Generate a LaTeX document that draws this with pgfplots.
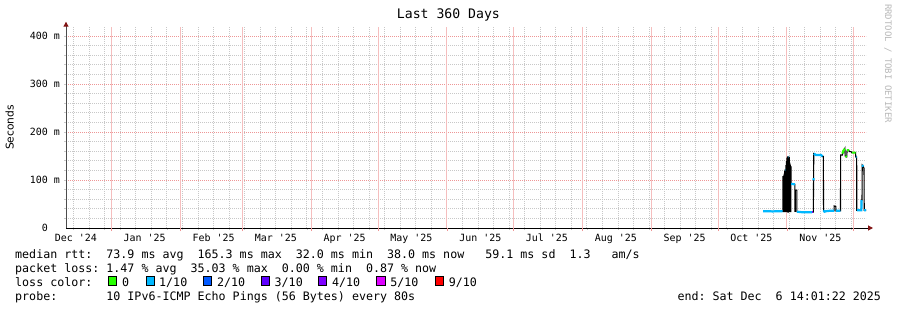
\documentclass[border=0pt]{standalone}
\usepackage{pgfplots}
\pgfplotsset{compat=1.18}
\usepackage{fontspec}
\usetikzlibrary{arrows.meta}
\newfontfamily\mono{DejaVu Sans Mono}
\newfontfamily\sansdv{DejaVu Sans}
\definecolor{loss0}{HTML}{26FF00}
\definecolor{loss1}{HTML}{00B8FF}
\definecolor{loss2}{HTML}{0059FF}
\definecolor{loss3}{HTML}{5E00FF}
\definecolor{loss4}{HTML}{7E00FF}
\definecolor{loss5}{HTML}{DD00FF}
\definecolor{loss9}{HTML}{FF0000}
\definecolor{gridred}{RGB}{238,150,150}
\definecolor{vgridred}{RGB}{245,190,190}
\definecolor{gridgray}{RGB}{200,200,200}
\definecolor{arrowred}{RGB}{130,20,20}
\begin{document}
\begin{tikzpicture}[x=1bp,y=1bp]
\path[use as bounding box] (0,0) rectangle (897,310);
\begin{axis}[
  at={(66bp,82bp)}, anchor=south west,
  scale only axis, width=800bp, height=201.5bp,
  xmin=0, xmax=360, ymin=0, ymax=419.8,
  axis x line=bottom, axis y line=left,
  x axis line style={black, line width=1bp, -{Triangle[length=5bp,width=5bp,color=arrowred]}, shorten >=-7bp},
  y axis line style={black!70, line width=1bp, -{Triangle[length=5bp,width=5bp,color=arrowred]}, shorten >=-4.8bp},
  % month labels (mid-month)
  xtick={4.416,35.416,66.416,94.416,125.416,155.416,186.416,216.416,247.416,278.416,308.416,339.416},
  xticklabels={Dec '24,Jan '25,Feb '25,Mar '25,Apr '25,May '25,Jun '25,Jul '25,Aug '25,Sep '25,Oct '25,Nov '25},
  xticklabel style={anchor=base, inner sep=0pt, yshift=-13.6bp},
  xmajorgrids=false,
  % month boundaries (tick marks)
  extra x ticks={20.416,51.416,79.416,110.416,140.416,171.416,201.416,232.416,263.416,293.416,324.416,354.416},
  extra x tick labels={},
  extra x tick style={grid=none, major tick length=3bp, tick style={gridred}},
  minor xtick={3.416,10.416,...,353.5},
  xminorgrids=true,
  ytick={0,100,200,300,400},
  yticklabels={0\phantom{~m},100~m,200~m,300~m,400~m},
  yticklabel style={anchor=east, inner sep=0pt, xshift=-6bp},
  minor ytick={20,40,...,400},
  ymajorgrids=true, yminorgrids=true,
  major grid style={dash pattern=on 1bp off 1bp, color=gridred, line width=1bp},
  minor grid style={dash pattern=on 1bp off 1bp, color=gridgray, line width=0.9bp},
  tick align=outside,
  major tick length=0pt, minor tick length=2bp,
  every tick/.style={line width=0.8bp},
  minor tick style={gridgray},
  tick label style={font=\mono\fontsize{10}{12}\selectfont},
  title={Last 360 Days},
  title style={at={(axis description cs:0.478,1)}, anchor=base, yshift=2.2bp, inner sep=0pt, font=\mono\fontsize{13.2}{15}\selectfont},
  ylabel={Seconds},
  ylabel style={at={(axis description cs:-0.0656,0.499)}, anchor=base, inner sep=0pt, font=\sansdv\fontsize{10.7}{12}\selectfont},
  clip=true,
]
% month boundary grid lines
\pgfplotsinvokeforeach{20.416,51.416,79.416,110.416,140.416,171.416,201.416,232.416,263.416,293.416,324.416,354.416}{
  \draw[vgridred, line width=1bp] (axis cs:#1,0) -- (axis cs:#1,419.8);
}
% median (black)
\addplot[black, line width=1.1bp] coordinates {
(313.7,35)(316,35)(318,34.5)(320,35)(322.5,35)
(322.6,35)(322.6,107)(322.7,107)(322.7,35)
(322.8,35)(322.8,107)(322.9,107)(322.9,34)
(323.0,34)(323.0,108)(323.1,108)(323.1,35)
(323.2,35)(323.2,112)(323.3,112)(323.3,34)
(323.4,34)(323.4,118)(323.5,118)(323.5,35)
(323.6,35)(323.6,121)(323.7,121)(323.7,34)
(323.8,34)(323.8,120)(323.9,120)(323.9,35)
(324.0,35)(324.0,130)(324.1,130)(324.1,34)
(324.2,34)(324.2,138)(324.3,138)(324.3,35)
(324.4,35)(324.4,145)(324.5,145)(324.5,34)
(324.6,34)(324.6,147)(324.7,147)(324.7,35)
(324.8,35)(324.8,148)(324.9,148)(324.9,33)
(325.0,33)(325.0,148)(325.1,148)(325.1,35)
(325.2,35)(325.2,146)(325.3,146)(325.3,34)
(325.4,34)(325.4,147)(325.5,147)(325.5,35)
(325.6,35)(325.6,135)(325.7,135)(325.7,34)
(325.8,34)(325.8,131)(325.9,131)(325.9,35)
(326.0,35)(326.0,128)(326.1,128)(326.1,34)
(326.2,34)(326.2,127)(326.3,127)(326.3,92)
(328.0,91)(328.0,35)(328.2,35)(328.2,79)(328.9,79)(328.9,34)
(331,33)(333,33)(335.6,33)(336.3,33)(336.4,101)(336.5,155)
(337.5,152)(339.8,152)(340.4,149)(340.8,149)(340.9,37)
(341.3,34)(342,35)(344,36)(345.6,36)(345.7,46)(346.4,45)(346.5,36)(348.5,36)
(348.6,152)(349.4,152)(349.7,160)(350.3,164)(350.5,166)(350.6,150)(351.3,148)
(351.5,162)(352.3,162)(352.5,159)(353.3,159)(353.6,157)(355.3,157)(355.4,148)(355.8,148)
(355.85,37)(357.9,37)(358.0,58)(358.2,58)(358.3,131)(358.8,128)(359.1,124)(359.2,37)(360,37)
};
% loss 1/10
\addplot[loss1, line width=2.2bp, unbounded coords=jump] coordinates {
(313.7,35)(316,35)(318,34.5)(320,35)(322.5,35)(322.55,nan)
(323.6,121)(323.7,121)(323.75,nan)
(325.0,148)(325.1,148)(325.15,nan)
(326.3,92)(328.0,91)(328.5,nan)
(328.9,34)(331,33)(333,33)(335.6,33)(336,nan)
(336.4,99)(336.42,104)(336.45,nan)
(336.5,155)(337.5,152)(339.8,152)(340.4,149)(340.6,nan)
(340.9,37)(341.3,34)(342,35)(344,36)(345.6,36)(345.65,nan)
(346.5,36)(348.5,36)(348.55,nan)
(355.4,148)(355.8,148)(355.83,nan)
(355.9,37)(357.9,37)(358.0,58)(358.1,nan)
(358.3,131)(358.8,128)(358.9,nan)
(359.2,37)(360,37)
};
% loss 0
\addplot[loss0, line width=2.2bp, unbounded coords=jump] coordinates {
(349.4,155)(349.7,160)(350.3,164)(350.5,165)(350.55,nan)
(350.8,150)(351.3,148)(351.35,nan)
(351.5,162)(352.3,162)(352.35,nan)
(353.6,157)(355.3,157)
};
% loss 4/10
\addplot[loss4, line width=2.2bp] coordinates {(335.6,33)(336.3,33)};
\end{axis}
\tikzset{leg/.style={anchor=base west, inner sep=0pt, font=\mono\fontsize{11.7}{14}\selectfont}}
\node[leg] at (15,52) {median rtt:~~73.9~ms~avg~~165.3~ms~max~~32.0~ms~min~~38.0~ms~now~~~59.1~ms~sd~~1.3~~~am/s};
\node[leg] at (15,38) {packet loss:~1.47~\%~avg~~35.03~\%~max~~0.00~\%~min~~0.87~\%~now};
\node[leg] at (15,24) {loss color:};
\foreach \xs/\col in {108.3/loss0,146/loss1,203.3/loss2,261/loss3,318.3/loss4,376.7/loss5,435/loss9}{
  \filldraw[fill=\col, draw=black, line width=0.8bp] (\xs,24.2) rectangle ++(8.2,9.1);
}
\node[leg] at (122,24) {0};
\node[leg] at (159,24) {1/10};
\node[leg] at (216.8,24) {2/10};
\node[leg] at (274.5,24) {3/10};
\node[leg] at (331.8,24) {4/10};
\node[leg] at (390.2,24) {5/10};
\node[leg] at (448.7,24) {9/10};
\node[leg] at (15,10) {probe:~~~~~~~10~IPv6-ICMP~Echo~Pings~(56~Bytes)~every~80s};
\node[leg] at (677.3,10) {end:~Sat~Dec~~6~14:01:22~2025};
\node[rotate=-90, anchor=base west, inner sep=0pt, font=\mono\fontsize{9}{10}\selectfont, text=black!28] at (885,306) {RRDTOOL / TOBI OETIKER};
\end{tikzpicture}
\end{document}
